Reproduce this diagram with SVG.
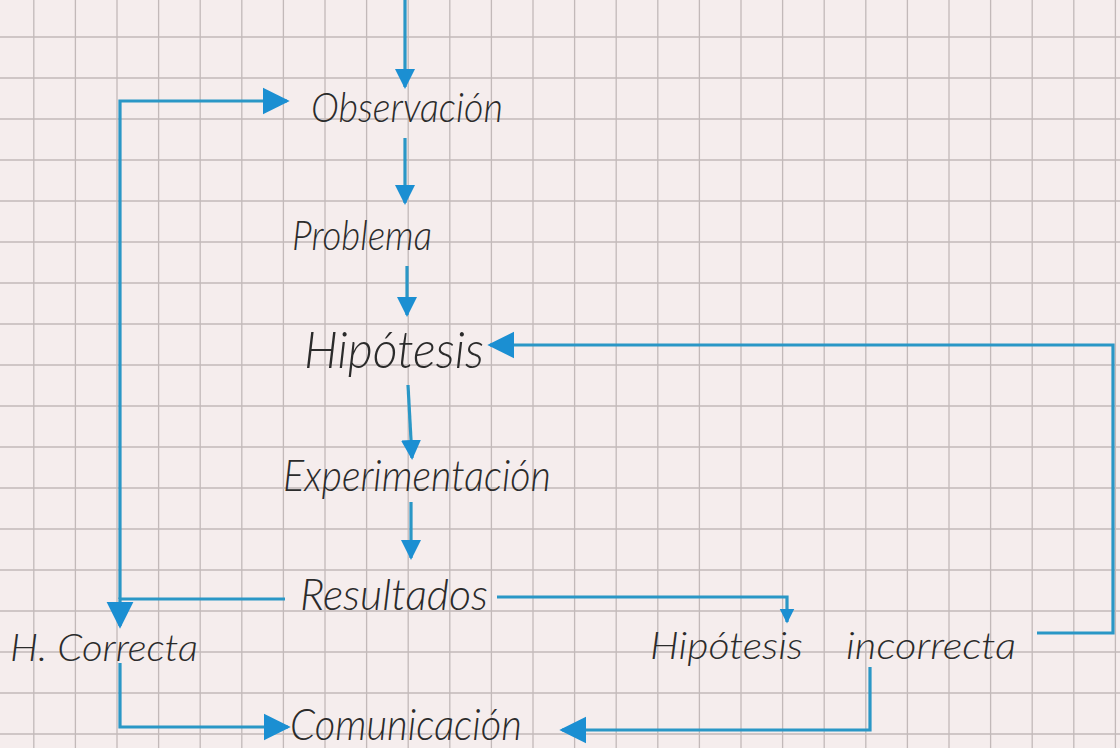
<svg xmlns="http://www.w3.org/2000/svg" width="1120" height="748" viewBox="0 0 1120 748">
  <defs>
    <marker id="ah" viewBox="0 0 10 10" refX="9" refY="5" markerUnits="userSpaceOnUse" markerWidth="20" markerHeight="22" orient="auto">
      <path d="M0,0 L10,5 L0,10 z" fill="#1b8fd2"/>
    </marker>
    <marker id="ahB" viewBox="0 0 10 10" refX="9" refY="5" markerUnits="userSpaceOnUse" markerWidth="27" markerHeight="34" orient="auto">
      <path d="M0,0 L10,5 L0,10 z" fill="#1b8fd2"/>
    </marker>
    <marker id="ahS" viewBox="0 0 10 10" refX="9" refY="5" markerUnits="userSpaceOnUse" markerWidth="15" markerHeight="20" orient="auto">
      <path d="M0,0 L10,5 L0,10 z" fill="#1b8fd2"/>
    </marker>
  </defs>
  <style>
    .grid { fill: none; stroke: #c2b9b9; stroke-width: 1.3; }
    .lbl { font-family: "Lato", "Liberation Sans", sans-serif; font-weight: 300; font-style: italic; fill: #2b2b2b; }
    .cn { fill: none; stroke: #2a97c6; stroke-width: 3.2; stroke-linejoin: miter; stroke-linecap: butt; }
  </style>
  <rect x="0" y="0" width="1120" height="748" fill="#f5eded"/>
  <path class="grid" d="M33.8,0V748 M75.4,0V748 M117,0V748 M158.6,0V748 M200.2,0V748 M241.8,0V748 M283.4,0V748 M325,0V748 M366.6,0V748 M408.2,0V748 M449.8,0V748 M491.4,0V748 M533,0V748 M574.6,0V748 M616.2,0V748 M657.8,0V748 M699.4,0V748 M741,0V748 M782.6,0V748 M824.2,0V748 M865.8,0V748 M907.4,0V748 M949,0V748 M990.6,0V748 M1032.2,0V748 M1073.8,0V748 M1115.4,0V748
    M0,37H1120 M0,78H1120 M0,119H1120 M0,160H1120 M0,201H1120 M0,242H1120 M0,283H1120 M0,324H1120 M0,365H1120 M0,406H1120 M0,447H1120 M0,488H1120 M0,529H1120 M0,570H1120 M0,611H1120 M0,652H1120 M0,693H1120 M0,734H1120"/>

  <g id="connectors">
    <path class="cn" d="M405,0 V87" marker-end="url(#ah)"/>
    <path class="cn" d="M405,138 V203" marker-end="url(#ah)"/>
    <path class="cn" d="M407,266 V315" marker-end="url(#ah)"/>
    <path class="cn" d="M408,385 L412,458" marker-end="url(#ah)"/>
    <path class="cn" d="M411,502 V558" marker-end="url(#ah)"/>
    <path class="cn" d="M120,599 V101 H287" marker-end="url(#ahB)"/>
    <path class="cn" d="M285,599 H120 V626" marker-end="url(#ahB)"/>
    <path class="cn" d="M497,597 H787 V622" marker-end="url(#ahS)"/>
    <path class="cn" d="M1037,633 H1113 V345 H490" marker-end="url(#ahB)"/>
    <path class="cn" d="M120,663 V727 H288" marker-end="url(#ahB)"/>
    <path class="cn" d="M870,667 V730 H562" marker-end="url(#ahB)"/>
  </g>

  <g id="observacion"><text class="lbl" x="311" y="122" font-size="42" textLength="192" lengthAdjust="spacingAndGlyphs">Observación</text></g>
  <g id="problema"><text class="lbl" x="292" y="250" font-size="42" textLength="140" lengthAdjust="spacingAndGlyphs">Problema</text></g>
  <g id="hipotesis"><text class="lbl" x="304" y="368" font-size="52" textLength="180" lengthAdjust="spacingAndGlyphs">Hipótesis</text></g>
  <g id="experimentacion"><text class="lbl" x="283" y="491" font-size="44" textLength="268" lengthAdjust="spacingAndGlyphs">Experimentación</text></g>
  <g id="resultados"><text class="lbl" x="300" y="610" font-size="44" textLength="188" lengthAdjust="spacingAndGlyphs">Resultados</text></g>
  <g id="h-correcta"><text class="lbl" x="10" y="661" font-size="38" textLength="188" lengthAdjust="spacingAndGlyphs">H. Correcta</text></g>
  <g id="hipotesis-incorrecta"><text class="lbl" y="659" font-size="38"><tspan x="650" textLength="153" lengthAdjust="spacingAndGlyphs">Hipótesis</tspan><tspan x="846" textLength="170" lengthAdjust="spacingAndGlyphs">incorrecta</tspan></text></g>
  <g id="comunicacion"><text class="lbl" x="290" y="740" font-size="44" textLength="232" lengthAdjust="spacingAndGlyphs">Comunicación</text></g>
</svg>
